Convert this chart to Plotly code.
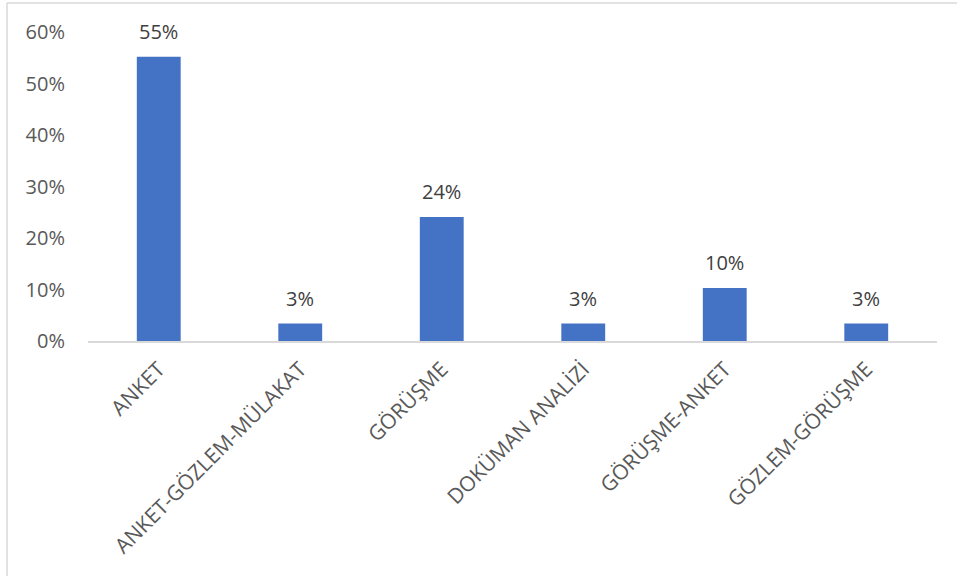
import plotly.graph_objects as go

categories = ["ANKET", "ANKET-GÖZLEM-MÜLAKAT", "GÖRÜŞME", "DOKÜMAN ANALİZİ", "GÖRÜŞME-ANKET", "GÖZLEM-GÖRÜŞME"]
values = [0.552, 0.034, 0.241, 0.034, 0.103, 0.034]
value_labels = ["55%", "3%", "24%", "3%", "10%", "3%"]
y_ticks = [0, 0.1, 0.2, 0.3, 0.4, 0.5, 0.6]
y_tick_labels = ["0%", "10%", "20%", "30%", "40%", "50%", "60%"]

W, H = 957, 576
ML, MR, MT, MB = 88, 20, 32, 235
FONT = "Open Sans, Noto Sans, sans-serif"

fig = go.Figure(go.Bar(
    x=categories, y=values,
    marker=dict(color="#4472C4", line=dict(width=0)),
    hoverinfo="x+y",
))

for c, v, t in zip(categories, values, value_labels):
    fig.add_annotation(x=c, y=v, text=t, showarrow=False, yanchor="middle", yshift=25,
                       font=dict(family=FONT, size=20, color="#404040"))

def px_x(x):
    return (x - ML) / (W - ML - MR)

def px_y(y):
    return (H - MB - y) / (H - MT - MB)

fig.update_layout(
    width=W, height=H,
    margin=dict(l=ML, r=MR, t=MT, b=MB, autoexpand=False),
    paper_bgcolor="white", plot_bgcolor="white",
    bargap=0.69,
    showlegend=False,
    font=dict(family=FONT, color="#595959"),
    xaxis=dict(
        tickangle=-45, showgrid=False, showline=True, linecolor="#D9D9D9", linewidth=1.5,
        ticks="", tickfont=dict(size=21, color="#595959"), automargin=False,
        ticklabelstandoff=6,
    ),
    yaxis=dict(
        range=[0, 0.6], tickvals=y_ticks, ticktext=y_tick_labels,
        showgrid=False, showline=False, zeroline=False, ticks="",
        tickfont=dict(size=20, color="#595959"), ticklabelstandoff=22, automargin=False,
    ),
    shapes=[
        dict(type="line", xref="paper", yref="paper", x0=px_x(7), x1=px_x(W + 5), y0=px_y(3), y1=px_y(3),
             line=dict(color="#D9D9D9", width=1.5)),
        dict(type="line", xref="paper", yref="paper", x0=px_x(7), x1=px_x(7), y0=px_y(3), y1=px_y(H + 5),
             line=dict(color="#D9D9D9", width=1.5)),
    ],
)

fig.write_html("out.html", config={"displayModeBar": False},
               post_script="document.body.style.margin='0';")
